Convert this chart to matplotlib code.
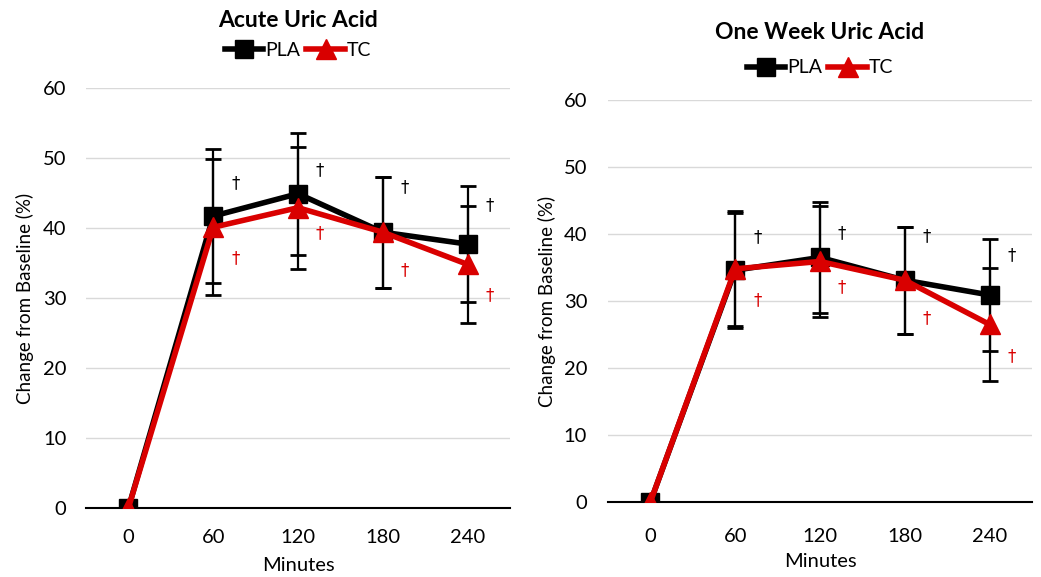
import numpy as np
import matplotlib.pyplot as plt

plt.rcParams['font.family'] = ['Lato', 'DejaVu Sans']

# -----------------------
# Data
# -----------------------
minutes = ['0', '60', '120', '180', '240']

acute_pla = [0, 41.7, 44.9, 39.4, 37.7]
acute_pla_err = [0, 9.6, 8.7, 7.9, 8.3]
acute_tc = [0, 40.1, 42.9, 39.4, 34.8]
acute_tc_err = [0, 9.7, 8.7, 7.9, 8.4]

week_pla = [0, 34.6, 36.5, 33.1, 30.9]
week_pla_err = [0, 8.6, 8.3, 8.0, 8.4]
week_tc = [0, 34.8, 35.9, 33.1, 26.5]
week_tc_err = [0, 8.6, 8.3, 8.0, 8.4]

# dagger label heights (significance marks)
acute_dag_pla = [None, 46.4, 48.3, 45.9, 43.3]
acute_dag_tc = [None, 35.7, 39.3, 34.0, 30.4]
week_dag_pla = [None, 39.6, 40.1, 39.7, 36.9]
week_dag_tc = [None, 30.1, 32.1, 27.5, 21.8]

RED = '#d90000'

fig = plt.figure(figsize=(10.41, 5.77), dpi=100)
ax1 = fig.add_axes([86 / 1041, 1 - 508 / 577, 424 / 1041, 420 / 577])
ax2 = fig.add_axes([608 / 1041, 1 - 502 / 577, 424 / 1041, 402 / 577])


def draw(ax, title, pla, pla_err, tc, tc_err, dag_pla, dag_tc,
         title_y, leg_y, xpad, ypad, xlab_y):
    x = np.arange(len(minutes))
    ax.errorbar(x, pla, yerr=pla_err, fmt='none', ecolor='black', elinewidth=1.6,
                capsize=6, capthick=2, zorder=2)
    ax.errorbar(x, tc, yerr=tc_err, fmt='none', ecolor='black', elinewidth=1.6,
                capsize=6, capthick=2, zorder=2)
    ax.plot(x, pla, color='black', lw=4, marker='s', ms=13, label='PLA', zorder=3)
    ax.plot(x, tc, color=RED, lw=4, marker='^', ms=15, label='TC', zorder=4)
    for i in range(1, len(minutes)):
        ax.text(x[i] + 0.26, dag_pla[i], '\u2020', color='black', fontsize=12,
                ha='center', va='center', family='DejaVu Sans')
        ax.text(x[i] + 0.26, dag_tc[i], '\u2020', color=RED, fontsize=12,
                ha='center', va='center', family='DejaVu Sans')

    ax.set_xlim(-0.5, 4.5)
    ax.set_ylim(0, 60)
    ax.set_yticks(range(0, 61, 10))
    ax.set_xticks(x)
    ax.set_xticklabels(minutes)
    ax.grid(axis='y', color='#d9d9d9', lw=1)
    ax.set_axisbelow(True)
    for s in ['top', 'right', 'left']:
        ax.spines[s].set_visible(False)
    ax.spines['bottom'].set_color('black')
    ax.spines['bottom'].set_linewidth(1.5)
    ax.spines['bottom'].set_zorder(1)
    ax.tick_params(length=0, labelsize=14.5)
    ax.tick_params(axis='x', pad=xpad)
    ax.tick_params(axis='y', pad=ypad)
    ax.set_xlabel('Minutes', fontsize=14.5)
    ax.xaxis.set_label_coords(0.5, xlab_y)
    ax.set_ylabel('Change from Baseline (%)', fontsize=13.5)
    ax.yaxis.set_label_coords(-0.122, 0.5)
    ax.set_title(title, fontsize=16.5, fontweight='bold', y=title_y)
    ax.legend(loc='center', bbox_to_anchor=(0.5, leg_y), ncol=2, frameon=False,
              fontsize=14, handlelength=2.0, handletextpad=0.1, columnspacing=0.3,
              borderaxespad=0)


draw(ax1, 'Acute Uric Acid', acute_pla, acute_pla_err, acute_tc, acute_tc_err,
     acute_dag_pla, acute_dag_tc, 1.125, 1.09, 15, 14, -0.117)
draw(ax2, 'One Week Uric Acid', week_pla, week_pla_err, week_tc, week_tc_err,
     week_dag_pla, week_dag_tc, 1.13, 1.08, 19, 15, -0.127)

fig.savefig('out.png', dpi=100)
